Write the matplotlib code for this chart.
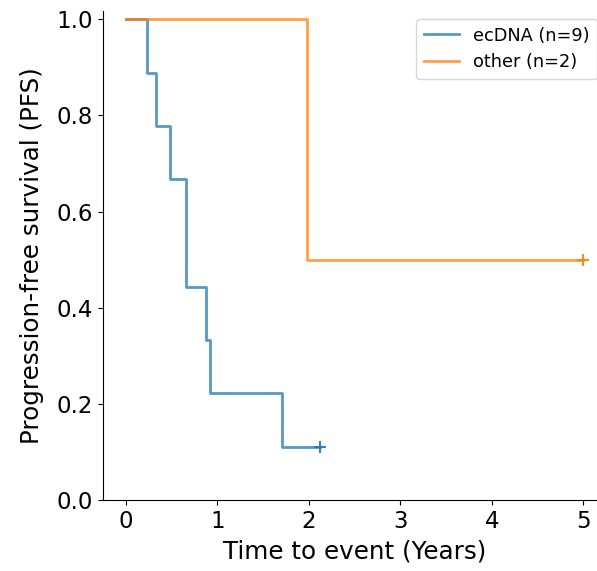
import matplotlib
matplotlib.use("Agg")
import matplotlib.pyplot as plt
import numpy as np

# Kaplan-Meier step data
ecdna_times = [0.0, 0.226, 0.33, 0.485, 0.66, 0.88, 0.92, 1.71, 2.12]
ecdna_surv = [1.0, 0.889, 0.778, 0.667, 0.444, 0.333, 0.222, 0.111, 0.111]
ecdna_censor_t = [2.12]
ecdna_censor_s = [0.111]

other_times = [0.0, 1.98, 5.0]
other_surv = [1.0, 0.5, 0.5]
other_censor_t = [5.0]
other_censor_s = [0.5]

labels = ["ecDNA (n=9)", "other (n=2)"]
colors = ["#1f77b4", "#ff7f0e"]

fig = plt.figure(figsize=(5.97, 5.71), dpi=100)
ax = fig.add_axes([0.1725, 0.1243, 0.8425, 0.8573])

ax.step(ecdna_times, ecdna_surv, where="post", color=colors[0], lw=2, alpha=0.75, label=labels[0], zorder=2)
ax.plot(ecdna_censor_t, ecdna_censor_s, "+", color=colors[0], ms=8, mew=1.5, alpha=0.9, zorder=2)
ax.step(other_times, other_surv, where="post", color=colors[1], lw=2, alpha=0.75, label=labels[1], zorder=3)
ax.plot(other_censor_t, other_censor_s, "+", color=colors[1], ms=8, mew=1.5, alpha=0.9, zorder=3)

ax.set_xlim(-0.25, 5.25)
ax.set_ylim(0, 1.018)
ax.set_xticks([0, 1, 2, 3, 4, 5])
ax.set_yticks([0.0, 0.2, 0.4, 0.6, 0.8, 1.0])
ax.tick_params(labelsize=16.5)
ax.spines["top"].set_visible(False)
ax.spines["right"].set_visible(False)
ax.set_xlabel("Time to event (Years)", fontsize=17.7, labelpad=5)
ax.set_ylabel("Progression-free survival (PFS)", fontsize=17.7, labelpad=9)

ax.legend(loc="upper right", fontsize=12.8)

fig.savefig("out.png", dpi=100)
